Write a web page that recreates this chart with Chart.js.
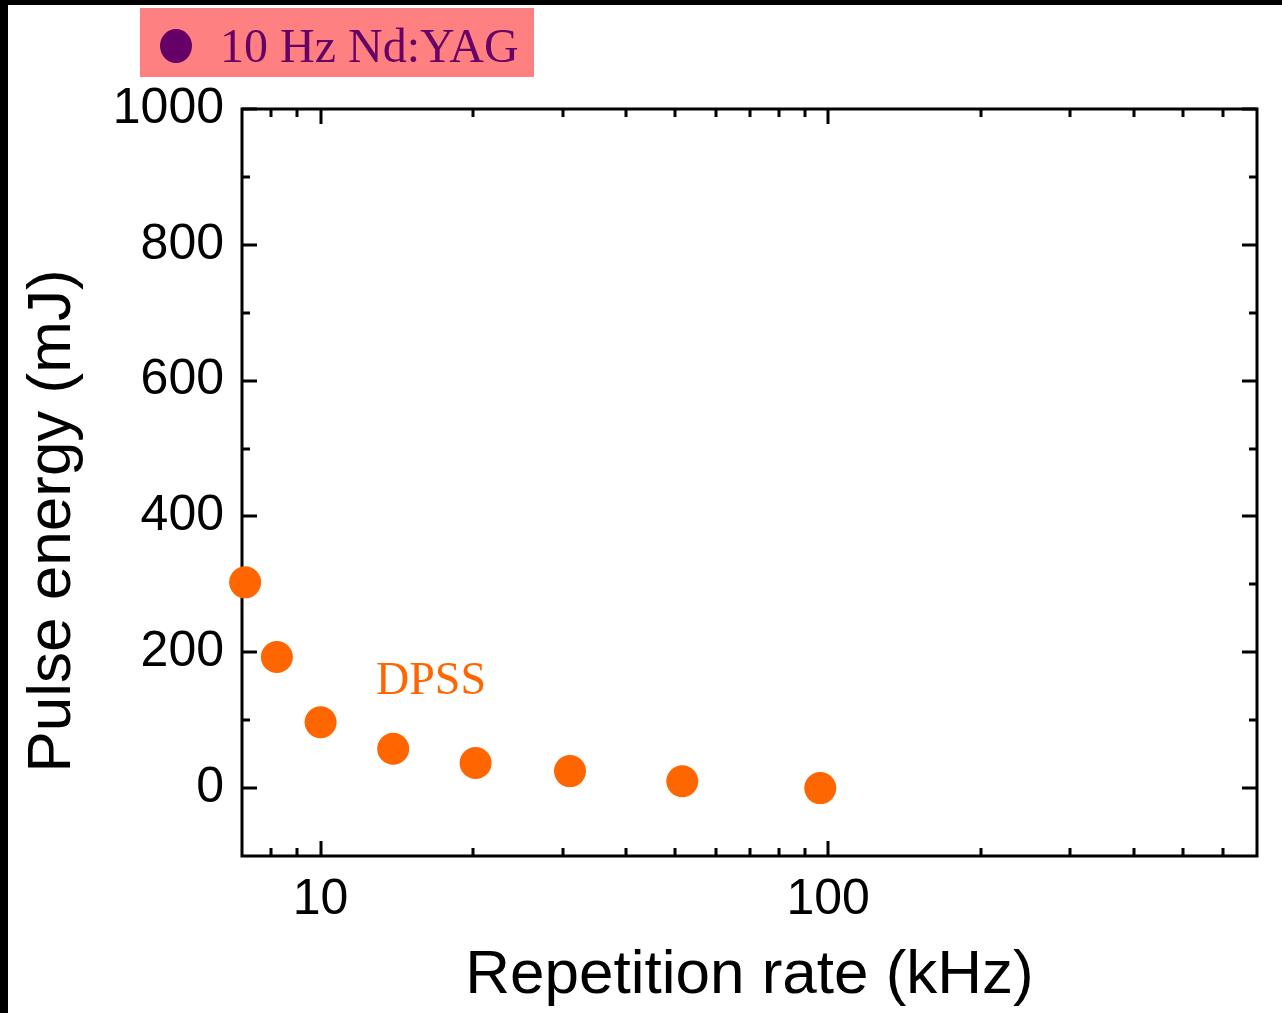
<!DOCTYPE html>
<html>
<head>
<meta charset="utf-8">
<title>Pulse energy vs repetition rate</title>
<script src="https://cdn.jsdelivr.net/npm/chart.js@4.4.1/dist/chart.umd.min.js"></script>
<style>
  html, body { margin: 0; padding: 0; background: #000; overflow: hidden; }
  .frame { position: absolute; left: 8px; top: 5px; width: 1274px; height: 1008px; background: #fff; }
  canvas { display: block; }
</style>
</head>
<body>
<div class="frame"><canvas id="chart-pulse" width="1274" height="1008"></canvas></div>
<script>
// DPSS points
const repRateKHz = [7.1, 8.2, 10, 13.9, 20.2, 31, 51.6, 96.5];
const pulseEnergyMJ = [303, 193, 97, 58, 37, 25, 10, 0];

const seriesLabels = ['DPSS', '10 Hz Nd:YAG'];

const xMajorTicks = [10, 100];
const xMinorTicks = [8, 9, 20, 30, 40, 50, 60, 70, 80, 90, 200, 300, 400, 500, 600];
const yMajorTicks = [0, 200, 400, 600, 800, 1000];
const yMinorTicks = [100, 300, 500, 700, 900];

const ORANGE = '#ff6600';
const PURPLE = '#660066';
const PINK = '#ff8080';
const SANS = '"Liberation Sans", Arial, sans-serif';
const SERIF = '"Liberation Serif", "Times New Roman", serif';

// where the "DPSS" tag sits, in data units
const dpssTagAt = { x: 16.5, y: 139 };

// frame + inward ticks on all four sides
const framePlugin = {
  id: 'frame',
  beforeDatasetsDraw(chart) {
    const { ctx, chartArea: a, scales: { x, y } } = chart;
    ctx.save();
    ctx.strokeStyle = '#000';
    ctx.lineWidth = 3;
    ctx.strokeRect(a.left, a.top, a.right - a.left, a.bottom - a.top);

    ctx.beginPath();
    const xt = (v, len) => {
      const px = Math.round(x.getPixelForValue(v));
      ctx.moveTo(px, a.bottom); ctx.lineTo(px, a.bottom - len);
      ctx.moveTo(px, a.top); ctx.lineTo(px, a.top + len);
    };
    const yt = (v, len) => {
      const py = Math.round(y.getPixelForValue(v));
      ctx.moveTo(a.left, py); ctx.lineTo(a.left + len, py);
      ctx.moveTo(a.right, py); ctx.lineTo(a.right - len, py);
    };
    xMajorTicks.forEach(v => xt(v, 15));
    xMinorTicks.forEach(v => xt(v, 8));
    yMajorTicks.forEach(v => yt(v, 15));
    yMinorTicks.forEach(v => yt(v, 8));
    ctx.stroke();
    ctx.restore();
  },
  afterDraw(chart) {
    const { ctx, scales: { x, y } } = chart;
    ctx.save();

    // Nd:YAG legend badge
    const ndyag = chart.data.datasets[1];
    ctx.fillStyle = PINK;
    ctx.fillRect(132, 3, 394, 69);
    ctx.fillStyle = ndyag.backgroundColor;
    ctx.beginPath();
    ctx.ellipse(168, 41, 16, 17, 0, 0, Math.PI * 2);
    ctx.fill();
    ctx.font = '48px ' + SERIF;
    ctx.textAlign = 'left';
    ctx.textBaseline = 'alphabetic';
    ctx.fillText(ndyag.label, 212, 57);

    // DPSS tag
    ctx.fillStyle = ORANGE;
    ctx.font = '46px ' + SERIF;
    ctx.textAlign = 'center';
    ctx.fillText(chart.data.datasets[0].label, x.getPixelForValue(dpssTagAt.x), y.getPixelForValue(dpssTagAt.y));

    // y title, sits a bit lower than the plot centre
    ctx.fillStyle = '#000';
    ctx.font = '62px ' + SANS;
    ctx.translate(62, 516);
    ctx.rotate(-Math.PI / 2);
    ctx.textAlign = 'center';
    ctx.textBaseline = 'alphabetic';
    ctx.fillText('Pulse energy (mJ)', 0, 0);
    ctx.restore();
  }
};

const ctx = document.getElementById('chart-pulse').getContext('2d');
new Chart(ctx, {
  type: 'scatter',
  data: {
    datasets: [
      {
        label: seriesLabels[0],
        data: repRateKHz.map((r, i) => ({ x: r, y: pulseEnergyMJ[i] })),
        backgroundColor: ORANGE,
        borderColor: ORANGE,
        pointRadius: 16,
        pointHoverRadius: 16,
        borderWidth: 0,
        clip: false
      },
      {
        label: seriesLabels[1],
        data: [],
        backgroundColor: PURPLE,
        borderColor: PURPLE
      }
    ]
  },
  options: {
    responsive: false,
    animation: false,
    devicePixelRatio: 1,
    layout: { padding: { left: 0, top: 104, right: 25, bottom: 0 } },
    plugins: { legend: { display: false }, tooltip: { enabled: false } },
    scales: {
      x: {
        type: 'logarithmic',
        min: 7,
        max: 700,
        afterBuildTicks: s => { s.ticks = xMajorTicks.map(v => ({ value: v })); },
        afterFit: s => { s.height = 157; },
        ticks: { color: '#000', font: { family: SANS, size: 50 }, padding: 14, autoSkip: false, maxRotation: 0,
                 callback: v => String(v) },
        grid: { display: false, drawTicks: false },
        border: { display: false },
        title: { display: true, text: 'Repetition rate (kHz)', color: '#000',
                 font: { family: SANS, size: 62 }, padding: { top: 0, bottom: 0 } }
      },
      y: {
        type: 'linear',
        min: -100,
        max: 1000,
        afterBuildTicks: s => { s.ticks = yMajorTicks.map(v => ({ value: v })); },
        afterFit: s => { s.width = 234; },
        ticks: { color: '#000', font: { family: SANS, size: 50 }, padding: 18, callback: v => String(v) },
        grid: { display: false, drawTicks: false },
        border: { display: false }
      }
    }
  },
  plugins: [framePlugin]
});
</script>
</body>
</html>
